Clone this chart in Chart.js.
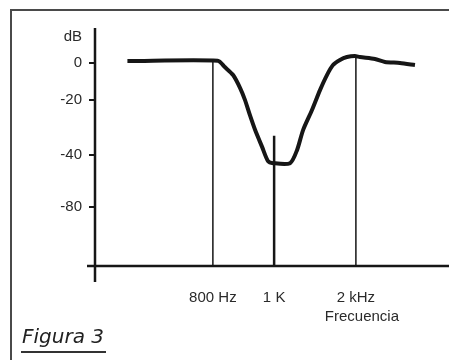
<!DOCTYPE html>
<html>
<head>
<meta charset="utf-8">
<script src="https://cdn.jsdelivr.net/npm/chart.js@4.4.1/dist/chart.umd.min.js"></script>
<style>
  html, body { margin: 0; padding: 0; background: #fff; overflow: hidden; }
  #wrap { position: relative; width: 449px; height: 360px; }
  #frame { position: absolute; left: 10px; top: 9px; width: 500px; height: 400px;
           border-top: 2px solid #4a4a4a; border-left: 2px solid #4a4a4a; }
  canvas { position: absolute; left: 0; top: 0; }
  #fig { position: absolute; left: 21px; top: 325px; font: italic 20px "DejaVu Sans", sans-serif;
         color: #222; border-bottom: 2px solid #333; padding: 0 2px 4px 1px; line-height: 22px; }
</style>
</head>
<body>
<div id="wrap">
  <div id="frame"></div>
  <canvas id="filterChart" width="449" height="360"></canvas>
  <div id="fig">Figura 3</div>
</div>
<script>
// response curve (Hz, dB)
const freqs = [510, 816, 839, 866, 889, 905, 921, 938, 961, 980, 997, 1195, 1280, 1354, 1463, 1561, 1646, 1720, 1805, 1890, 1988, 2086, 2409, 2624, 2946, 3269];
const gains = [1.1, 1.3, -2.2, -6.5, -13.5, -20, -25.5, -30.9, -37.1, -44.6, -46.2, -46.2, -38.2, -30.9, -23.6, -14.6, -6.5, -1.1, 1.7, 3.4, 4.0, 3.4, 2.3, 0.6, 0, -1.1];

// marker lines
const markerFreqs = [800, 1000, 2000];
const markerTops = [1.1, -33, 3.4];
const markerLabels = ["800 Hz", "1 K", "2 kHz"];

const yTicks = [0, -20, -40, -80];
const yBottom = -120;

// the drawing is not to scale: piecewise mapping value -> fraction of axis
class BentScale extends Chart.LinearScale {
  getPixelForValue(value) {
    const stops = this.options.stops;
    let f = 0;
    for (let i = 1; i < stops.length; i++) {
      const [v0, f0] = stops[i - 1], [v1, f1] = stops[i];
      if ((value - v0) * (value - v1) <= 0 || i === stops.length - 1) {
        f = f0 + (value - v0) / (v1 - v0) * (f1 - f0);
        break;
      }
    }
    return this.isHorizontal() ? this.left + f * this.width : this.top + f * this.height;
  }
}
BentScale.id = "bent";
BentScale.defaults = {};
Chart.register(BentScale);

const ink = "#161616";
const labelFont = '"Liberation Sans Narrow", "Liberation Sans", Arial, sans-serif';
Chart.defaults.font.family = labelFont;
Chart.defaults.font.size = 15;
Chart.defaults.color = "#2a2a2a";

const axesPlugin = {
  id: "axes",
  afterDraw(chart) {
    const { ctx, chartArea: a } = chart;
    ctx.save();
    ctx.strokeStyle = ink;
    ctx.lineWidth = 2.5;
    ctx.beginPath();
    ctx.moveTo(a.left, a.top);
    ctx.lineTo(a.left, a.bottom + 16);
    ctx.moveTo(a.left - 8, a.bottom);
    ctx.lineTo(a.right, a.bottom);
    ctx.stroke();
    ctx.fillStyle = "#2a2a2a";
    ctx.font = "15px " + labelFont;
    ctx.textAlign = "right";
    ctx.textBaseline = "middle";
    ctx.fillText("dB", a.left - 13, a.top + 9);
    ctx.textAlign = "center";
    ctx.fillText("Frecuencia", chart.scales.x.getPixelForValue(2000) + 6, a.bottom + 51);
    ctx.restore();
  },
};

new Chart(document.getElementById("filterChart"), {
  type: "line",
  data: {
    datasets: [
      {
        data: freqs.map((f, i) => ({ x: f, y: gains[i] })),
        borderColor: ink,
        borderWidth: 4,
        pointRadius: 0,
        tension: 0.25,
      },
      ...markerFreqs.map((f, i) => ({
        data: [{ x: f, y: markerTops[i] }, { x: f, y: yBottom }],
        borderColor: ink,
        borderWidth: i === 1 ? 2.5 : 1.5,
        pointRadius: 0,
      })),
    ],
  },
  options: {
    responsive: false,
    animation: false,
    events: [],
    layout: { padding: { top: 28, left: 0, right: 0, bottom: 0 } },
    plugins: { legend: { display: false }, tooltip: { enabled: false } },
    scales: {
      x: {
        type: "bent",
        min: 400,
        max: 4000,
        stops: [[400, 0], [800, 0.333], [1000, 0.506], [2000, 0.737], [4000, 1]],
        afterBuildTicks: (s) => { s.ticks = markerFreqs.map((v) => ({ value: v })); },
        afterFit: (s) => { s.height = 94; },
        ticks: { padding: 15, maxRotation: 0, autoSkip: false, callback: (v, i) => markerLabels[i] },
        grid: { display: false },
        border: { display: false },
      },
      y: {
        type: "bent",
        min: yBottom,
        max: 20,
        stops: [[20, 0], [0, 0.147], [-20, 0.303], [-40, 0.534], [-80, 0.752], [-120, 1]],
        afterBuildTicks: (s) => { s.ticks = yTicks.map((v) => ({ value: v })); },
        afterFit: (s) => { s.width = 95; },
        ticks: { padding: 7, callback: (v) => String(v) },
        grid: { drawOnChartArea: false, tickLength: 6, color: ink, lineWidth: 2 },
        border: { display: false },
      },
    },
  },
  plugins: [axesPlugin],
});
</script>
</body>
</html>
